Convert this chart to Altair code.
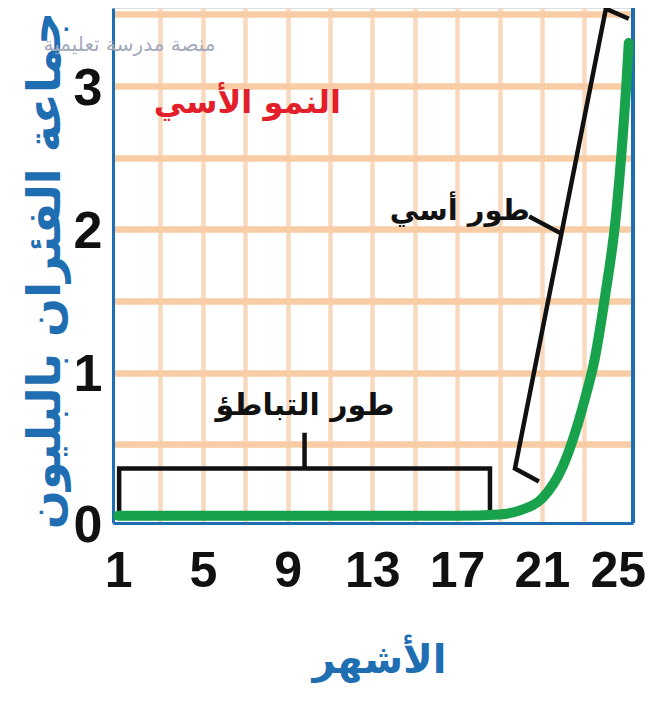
import altair as alt
import pandas as pd

# ---- data ----
months = [1, 5, 9, 13, 17, 19, 20, 21, 22, 23, 23.5, 24, 24.5, 25, 25.1]
mice_billions = [0, 0, 0, 0, 0, 0.01, 0.04, 0.12, 0.35, 0.8, 1.1, 1.55, 2.1, 3.05, 3.3]

x_ticks = [1, 3, 5, 7, 9, 11, 13, 15, 17, 19, 21, 23, 25]
y_ticks = [0, 0.5, 1, 1.5, 2, 2.5, 3, 3.5]

x_title = "الأشهر"
y_title = "جماعة الفئران بالبليون"
growth_label = "النمو الأسي"
lag_label = "طور التباطؤ"
exp_label = "طور أسي"
watermark = "منصة مدرسة تعليمية"

# annotation brackets (data coordinates)
lag_bracket_x = [1.05, 1.05, 18.55, 18.55]
lag_bracket_y = [0.02, 0.33, 0.33, 0.03]
lag_tick_x = [9.8, 9.8]
lag_tick_y = [0.33, 0.58]
exp_bracket_x = [20.86, 19.73, 24.02, 25.1]
exp_bracket_y = [0.24, 0.33, 3.54, 3.47]
exp_tick_x = [21.92, 20.4]
exp_tick_y = [1.97, 2.09]

# label anchors
growth_pos = (7.1, 2.88)
lag_pos = (9.82, 0.77)
exp_pos = (17.13, 2.13)
wm_pos = (5.6, 3.29)

W, H = 520, 515
BLUE = "#1F6EB2"
GREEN = "#17A24B"
GRID_H = "#F8CCA4"
GRID_V = "#F8D9BE"
AR_FONT = "DejaVu Sans"
NUM_FONT = "Liberation Sans, Arial, sans-serif"

xscale = alt.Scale(domain=[0.76, 25.3], nice=False, zero=False)
yscale = alt.Scale(domain=[-0.05, 3.545], nice=False, zero=False)

curve_df = pd.DataFrame({"month": months, "value": mice_billions})

x_axis = alt.Axis(
    values=x_ticks,
    labelExpr="(datum.value - 1) % 4 == 0 ? format(datum.value, 'd') : ''",
    grid=True, gridColor=GRID_V, gridWidth=4.5,
    gridOpacity={"condition": {"test": "datum.value == 1 || datum.value == 25", "value": 0}, "value": 1},
    ticks=False, domainColor=BLUE, domainWidth=3,
    labelFont=NUM_FONT, labelFontSize=50, labelFontWeight="bold", labelColor="#111111",
    labelBaseline="middle", labelPadding=48, labelFlush=False, labelOverlap=False,
    labelAlign={"condition": {"test": "datum.value == 25", "value": "right"}, "value": "center"},
    labelOffset={"condition": {"test": "datum.value == 25", "value": 19}, "value": 0},
    title=x_title, titleFont=AR_FONT, titleFontSize=40, titleFontWeight="bold", titleColor=BLUE,
    titleX=266, titleY=137, titleAlign="center", titleBaseline="middle",
)
y_axis = alt.Axis(
    values=y_ticks,
    labelExpr="datum.value % 1 == 0 ? format(datum.value, 'd') : ''",
    grid=True, gridColor=GRID_H, gridWidth=6.5,
    gridOpacity={"condition": {"test": "datum.value == 0", "value": 0}, "value": 1},
    ticks=False, domainColor=BLUE, domainWidth=3,
    labelFont=NUM_FONT, labelFontSize=52, labelFontWeight="bold", labelColor="#111111",
    labelPadding=11, labelFlush=False, labelOverlap=False, labelBaseline="middle",
    labelOffset={"condition": {"test": "datum.value == 0", "value": 10}, "value": 2},
    title=y_title, titleFont=AR_FONT, titleFontSize=46, titleFontWeight="bold", titleColor=BLUE,
    titleAngle=270, titleX=-68, titleY=262, titleAlign="center", titleBaseline="middle",
)

curve = alt.Chart(curve_df).mark_line(
    color=GREEN, strokeWidth=10, interpolate="monotone", strokeCap="round"
).encode(
    x=alt.X("month:Q", scale=xscale, axis=x_axis),
    y=alt.Y("value:Q", scale=yscale, axis=y_axis),
)

def path(xs, ys):
    df = pd.DataFrame({"month": xs, "value": ys, "i": list(range(len(xs)))})
    return alt.Chart(df).mark_line(color="#111111", strokeWidth=4.5, strokeJoin="miter").encode(
        x=alt.X("month:Q", scale=xscale),
        y=alt.Y("value:Q", scale=yscale),
        order="i:O",
    )

def label(text, pos, color, size, weight="bold", align="center", font=AR_FONT):
    df = pd.DataFrame({"month": [pos[0]], "value": [pos[1]], "t": [text]})
    return alt.Chart(df).mark_text(
        color=color, fontSize=size, fontWeight=weight, font=font,
        align=align, baseline="middle", clip=False,
    ).encode(
        x=alt.X("month:Q", scale=xscale),
        y=alt.Y("value:Q", scale=yscale),
        text="t:N",
    )

right_border = alt.Chart(curve_df).mark_rule(color=BLUE, strokeWidth=3).encode(
    x=alt.value(W), y=alt.value(0), y2=alt.value(H)
)

chart = alt.layer(
    right_border,
    label(watermark, wm_pos, "#A3AABB", 20, weight="normal", align="right"),
    path(lag_bracket_x, lag_bracket_y),
    path(lag_tick_x, lag_tick_y),
    path(exp_bracket_x, exp_bracket_y),
    path(exp_tick_x, exp_tick_y),
    curve,
    label(growth_label, growth_pos, "#E21F2B", 32),
    label(lag_label, lag_pos, "#111111", 30),
    label(exp_label, exp_pos, "#111111", 29),
).properties(
    width=W, height=H,
    autosize=alt.AutoSizeParams(type="none"),
    padding={"left": 105, "top": 0, "right": 14, "bottom": 180},
).configure_view(stroke=None).configure(background="white")

chart.save("out.html", embed_options={"renderer": "svg", "actions": False})
